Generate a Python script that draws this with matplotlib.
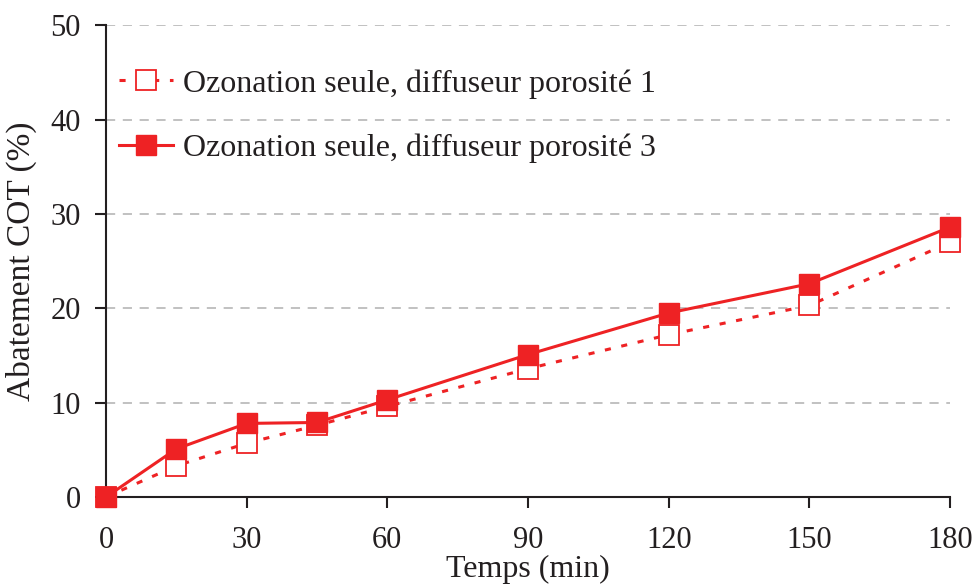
import matplotlib
matplotlib.use("Agg")
import matplotlib.pyplot as plt

temps = [0, 15, 30, 45, 60, 90, 120, 150, 180]
poro1 = [0, 3.3, 5.7, 7.6, 9.6, 13.6, 17.2, 20.3, 27.0]
poro3 = [0, 5.1, 7.8, 7.9, 10.3, 15.1, 19.5, 22.6, 28.6]
labels = ["Ozonation seule, diffuseur porosité 1", "Ozonation seule, diffuseur porosité 3"]
xticks = [0, 30, 60, 90, 120, 150, 180]
yticks = [0, 10, 20, 30, 40, 50]

plt.rcParams['font.family'] = ['Liberation Serif', 'DejaVu Serif']
red = '#ee2224'
dark = '#231f20'

fig = plt.figure(figsize=(9.76, 5.87), dpi=100)
ax = fig.add_axes([0.1086, 0.1533, 0.9734 - 0.1086, 0.957 - 0.1533])

for y in yticks[1:]:
    ax.axhline(y, color='#b0b0b0', lw=1.1, ls=(0, (6, 5)), zorder=0)

ax.plot(temps, poro1, color=red, lw=2.2, ls=(0, (2, 3.5)), marker='s', ms=14,
        mfc='white', mec=red, mew=1.3, label=labels[0], clip_on=False, zorder=3)
ax.plot(temps, poro3, color=red, lw=2.2, ls='-', marker='s', ms=14,
        mfc=red, mec=red, label=labels[1], clip_on=False, zorder=4)

ax.set_xlim(0, 180)
ax.set_ylim(0, 50)
ax.set_xticks(xticks)
ax.set_yticks(yticks)
for s in ['top', 'right']:
    ax.spines[s].set_visible(False)
for s in ['left', 'bottom']:
    ax.spines[s].set_linewidth(1.5)
    ax.spines[s].set_color(dark)
ax.tick_params(axis='both', direction='out', length=8, width=1.5, colors=dark,
               labelsize=22, labelcolor=dark)
ax.tick_params(axis='x', pad=13)
ax.tick_params(axis='y', pad=10)
ax.set_xlabel('Temps (min)', fontsize=23, color=dark, labelpad=0)
ax.set_ylabel('Abatement COT (%)', fontsize=24, color=dark, labelpad=10)

leg = ax.legend(loc='upper left', bbox_to_anchor=(0.0, 0.934), frameon=False, fontsize=23,
                handlelength=1.7, handletextpad=0.3, labelspacing=1.1, borderaxespad=0.0,
                markerscale=1.0)
for t in leg.get_texts():
    t.set_color(dark)

fig.savefig('out.png', dpi=100)
